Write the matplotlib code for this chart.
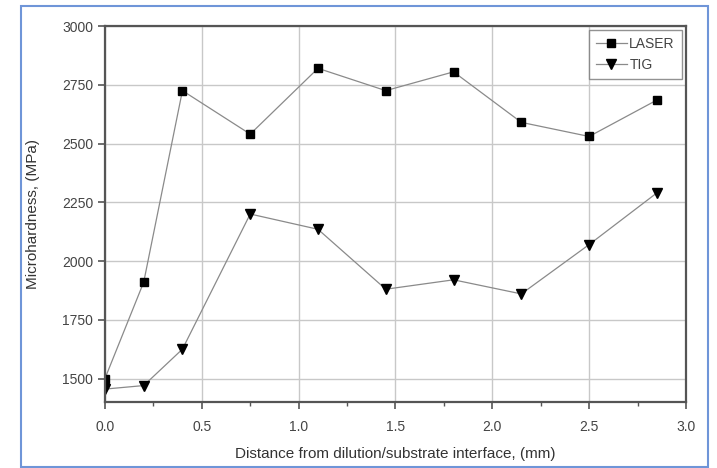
import matplotlib
matplotlib.use("Agg")
import matplotlib.pyplot as plt
from matplotlib.patches import Rectangle
from matplotlib.ticker import MultipleLocator

plt.rcParams["font.family"] = ["Liberation Sans", "DejaVu Sans"]

DISTANCE = [0.0, 0.2, 0.4, 0.75, 1.1, 1.45, 1.8, 2.15, 2.5, 2.85]
LASER = [1500, 1910, 2725, 2540, 2820, 2725, 2805, 2590, 2530, 2685]
TIG = [1455, 1470, 1625, 2200, 2135, 1880, 1920, 1860, 2070, 2290]

fig = plt.figure(figsize=(7.17, 4.68), dpi=100)
ax = fig.add_axes([0.1464, 0.141, 0.8103, 0.8034])

# blue frame around the whole picture
fig.patches.append(Rectangle((21 / 717, 1 - 467 / 468), 687 / 717, 461 / 468,
                             transform=fig.transFigure, fill=False,
                             edgecolor="#6f95d8", linewidth=1.5))

ax.plot(DISTANCE, LASER, color="#8a8a8a", linewidth=0.9, marker="s",
        markersize=5.5, markerfacecolor="black", markeredgecolor="black",
        label="LASER")
ax.plot(DISTANCE, TIG, color="#8a8a8a", linewidth=0.9, marker="v",
        markersize=6.5, markerfacecolor="black", markeredgecolor="black",
        label="TIG")

ax.set_xlim(0, 3.0)
ax.set_ylim(1400, 3000)
ax.xaxis.set_major_locator(MultipleLocator(0.5))
ax.xaxis.set_minor_locator(MultipleLocator(0.25))
ax.set_yticks([1500, 1750, 2000, 2250, 2500, 2750, 3000])
ax.xaxis.set_major_formatter(matplotlib.ticker.FormatStrFormatter("%.1f"))

ax.grid(True, color="#c8c8c8", linewidth=1.0)
ax.set_axisbelow(True)

for s in ax.spines.values():
    s.set_color("#555555")
    s.set_linewidth(1.6)

ax.tick_params(axis="both", which="major", direction="out", length=5,
               width=1.2, color="#555555", labelsize=10, labelcolor="#444444")
ax.tick_params(axis="x", which="major", pad=8)
ax.tick_params(axis="x", which="minor", direction="out", length=3,
               width=1.0, color="#555555")

ax.set_xlabel("Distance from dilution/substrate interface, (mm)",
              fontsize=11, color="#333333", labelpad=9)
ax.set_ylabel("Microhardness, (MPa)", fontsize=11, color="#333333",
              labelpad=16)

leg = ax.legend(loc="upper right", fontsize=10, frameon=True, fancybox=False,
                borderaxespad=0.3, handlelength=2.2, handletextpad=0.2,
                borderpad=0.5, labelspacing=0.5)
leg.get_frame().set_edgecolor("#777777")
leg.get_frame().set_linewidth(1.0)
for t in leg.get_texts():
    t.set_color("#444444")

fig.savefig("out.png", dpi=100)
